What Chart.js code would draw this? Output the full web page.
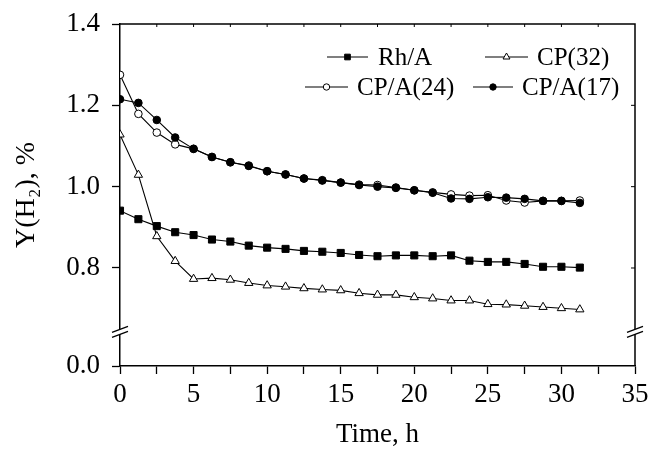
<!DOCTYPE html>
<html>
<head>
<meta charset="utf-8">
<script src="https://cdn.jsdelivr.net/npm/chart.js@4.4.0/dist/chart.umd.min.js"></script>
<style>
  html, body { margin: 0; padding: 0; background: #fff; }
</style>
</head>
<body>
<canvas id="myChart" width="649" height="455"></canvas>
<script>
// time axis (h)
const hours = [0, 1.25, 2.5, 3.75, 5, 6.25, 7.5, 8.75, 10, 11.25, 12.5, 13.75, 15,
  16.25, 17.5, 18.75, 20, 21.25, 22.5, 23.75, 25, 26.25, 27.5, 28.75, 30, 31.25];

// Y(H2), % per catalyst
const rhA = [0.941, 0.920, 0.903, 0.888, 0.881, 0.870, 0.865, 0.855, 0.850, 0.847, 0.842, 0.840, 0.837,
  0.832, 0.829, 0.831, 0.831, 0.829, 0.831, 0.818, 0.815, 0.815, 0.810, 0.803, 0.803, 0.801];
const cp32 = [1.128, 1.029, 0.878, 0.817, 0.773, 0.775, 0.771, 0.763, 0.757, 0.754, 0.750, 0.747, 0.745,
  0.738, 0.734, 0.734, 0.728, 0.725, 0.720, 0.720, 0.711, 0.710, 0.707, 0.704, 0.701, 0.698];
const cpA24 = [1.275, 1.179, 1.133, 1.104, 1.093, 1.073, 1.060, 1.052, 1.038, 1.030, 1.020, 1.016, 1.010,
  1.005, 1.004, 0.998, 0.991, 0.986, 0.981, 0.978, 0.979, 0.966, 0.961, 0.965, 0.965, 0.966];
const cpA17 = [1.215, 1.206, 1.164, 1.121, 1.093, 1.073, 1.060, 1.051, 1.038, 1.030, 1.020, 1.015, 1.010,
  1.004, 1.000, 0.997, 0.991, 0.985, 0.971, 0.970, 0.974, 0.973, 0.970, 0.965, 0.965, 0.960];

const seriesNames = ['Rh/A', 'CP(32)', 'CP/A(24)', 'CP/A(17)'];

// broken y axis: the "0.0" tick sits at the bottom of the scale, the break just above it
const yTickValues = [0.559, 0.8, 1.0, 1.2, 1.4];
const yTickLabels = ['0.0', '0.8', '1.0', '1.2', '1.4'];
const yBreakAt = 0.643;
const xTickStep = 2.5;

const FONT = '"Liberation Serif", "Times New Roman", serif';
Chart.defaults.font.family = FONT;
Chart.defaults.color = '#000';

function pts(vals) {
  return hours.map((h, i) => ({ x: h, y: vals[i] }));
}

function makeSet(label, vals, style, fill, radius, order) {
  return {
    label: label,
    data: pts(vals),
    borderColor: '#000',
    borderWidth: 1.1,
    pointStyle: style,
    pointRadius: radius,
    pointBorderWidth: 1,
    pointBackgroundColor: fill,
    pointBorderColor: '#000',
    tension: 0,
    order: order
  };
}

// legend laid out like the original: 2 rows x 2 columns inside the plot
const legendSlots = [
  { a: 327, b: 368, tx: 378, y: 57 },
  { a: 485, b: 528, tx: 537, y: 57 },
  { a: 305, b: 348, tx: 357, y: 87 },
  { a: 473, b: 513, tx: 522, y: 87 }
];

const framePlugin = {
  id: 'frame',
  afterDraw(chart) {
    const ctx = chart.ctx;
    const area = chart.chartArea;
    const xs = chart.scales.x, ys = chart.scales.y;
    ctx.save();
    ctx.strokeStyle = '#000';
    ctx.lineWidth = 1.5;
    // top and right sides of the box
    ctx.beginPath();
    ctx.moveTo(area.left, area.top);
    ctx.lineTo(area.right, area.top);
    ctx.lineTo(area.right, area.bottom);
    ctx.stroke();
    // small inward ticks
    ctx.lineWidth = 1;
    ctx.beginPath();
    for (let v = xTickStep; v < xs.max; v += xTickStep) {
      const px = xs.getPixelForValue(v);
      ctx.moveTo(px, area.top);
      ctx.lineTo(px, area.top + 3);
    }
    yTickValues.slice(1, -1).forEach(v => {
      const py = ys.getPixelForValue(v);
      ctx.moveTo(area.right, py);
      ctx.lineTo(area.right - 4, py);
    });
    ctx.stroke();

    // axis break marks
    const by = ys.getPixelForValue(yBreakAt);
    [area.left, area.right].forEach(ax => {
      ctx.fillStyle = '#fff';
      ctx.beginPath();
      ctx.moveTo(ax - 8, by + 5.5);
      ctx.lineTo(ax + 8, by - 0.5);
      ctx.lineTo(ax + 8, by - 5.5);
      ctx.lineTo(ax - 8, by + 0.5);
      ctx.closePath();
      ctx.fill();
      ctx.strokeStyle = '#000';
      ctx.lineWidth = 1.3;
      ctx.beginPath();
      ctx.moveTo(ax - 8, by + 0.5);
      ctx.lineTo(ax + 8, by - 5.5);
      ctx.moveTo(ax - 8, by + 5.5);
      ctx.lineTo(ax + 8, by - 0.5);
      ctx.stroke();
    });

    // legend
    ctx.font = '25px ' + FONT;
    ctx.textBaseline = 'middle';
    ctx.textAlign = 'left';
    chart.data.datasets.forEach((ds, i) => {
      const s = legendSlots[i];
      ctx.strokeStyle = '#000';
      ctx.lineWidth = 1.1;
      ctx.beginPath();
      ctx.moveTo(s.a, s.y);
      ctx.lineTo(s.b, s.y);
      ctx.stroke();
      ctx.fillStyle = ds.pointBackgroundColor;
      ctx.lineWidth = 1;
      Chart.helpers.drawPoint(ctx, {
        pointStyle: ds.pointStyle,
        radius: ds.pointStyle === 'circle' ? 3.2 : 4,
        borderWidth: 1,
        rotation: 0
      }, (s.a + s.b) / 2, s.y);
      ctx.fillStyle = '#000';
      ctx.fillText(ds.label, s.tx, s.y + 1);
    });
    ctx.restore();
  }
};

const config = {
  type: 'line',
  data: {
    datasets: [
      makeSet(seriesNames[0], rhA, 'rect', '#000', 5, 1),
      makeSet(seriesNames[1], cp32, 'triangle', '#fff', 4.8, 1),
      makeSet(seriesNames[2], cpA24, 'circle', '#fff', 3.8, 1),
      makeSet(seriesNames[3], cpA17, 'circle', '#000', 3.8, 0)
    ]
  },
  options: {
    responsive: false,
    devicePixelRatio: 1,
    animation: false,
    layout: { padding: { top: 24, right: 14, left: 0, bottom: 0 } },
    plugins: {
      legend: { display: false },
      tooltip: { enabled: false }
    },
    scales: {
      x: {
        type: 'linear',
        min: 0,
        max: 35,
        afterFit(scale) {
          scale.height = 89;
          scale.paddingLeft = 0;
          scale.paddingRight = 0;
        },
        ticks: {
          stepSize: xTickStep,
          autoSkip: false,
          maxRotation: 0,
          padding: 5,
          font: { size: 27 },
          callback: v => (v % 5 === 0 ? String(v) : '')
        },
        grid: { drawOnChartArea: false, drawTicks: true, tickLength: 8, tickColor: '#000', tickWidth: 1.3 },
        border: { display: true, color: '#000', width: 1.5 },
        title: { display: true, text: 'Time, h', font: { size: 27 }, padding: { top: 0, bottom: 4 } }
      },
      y: {
        type: 'linear',
        min: yTickValues[0],
        max: yTickValues[yTickValues.length - 1],
        afterFit(scale) {
          scale.width = 120;
          scale.paddingTop = 0;
          scale.paddingBottom = 0;
        },
        afterBuildTicks(scale) {
          scale.ticks = yTickValues.map(v => ({ value: v }));
        },
        ticks: {
          padding: 12,
          font: { size: 27 },
          callback: function (v) {
            const i = yTickValues.indexOf(v);
            return i >= 0 ? yTickLabels[i] : '';
          }
        },
        grid: { drawOnChartArea: false, drawTicks: true, tickLength: 8, tickColor: '#000', tickWidth: 1.3 },
        border: { display: true, color: '#000', width: 1.5 },
        title: { display: true, text: 'Y(H\u2082), %', font: { size: 28 }, padding: { top: 10, bottom: 0 } }
      }
    }
  },
  plugins: [framePlugin]
};

const myChart = new Chart(document.getElementById('myChart'), config);
</script>
</body>
</html>
